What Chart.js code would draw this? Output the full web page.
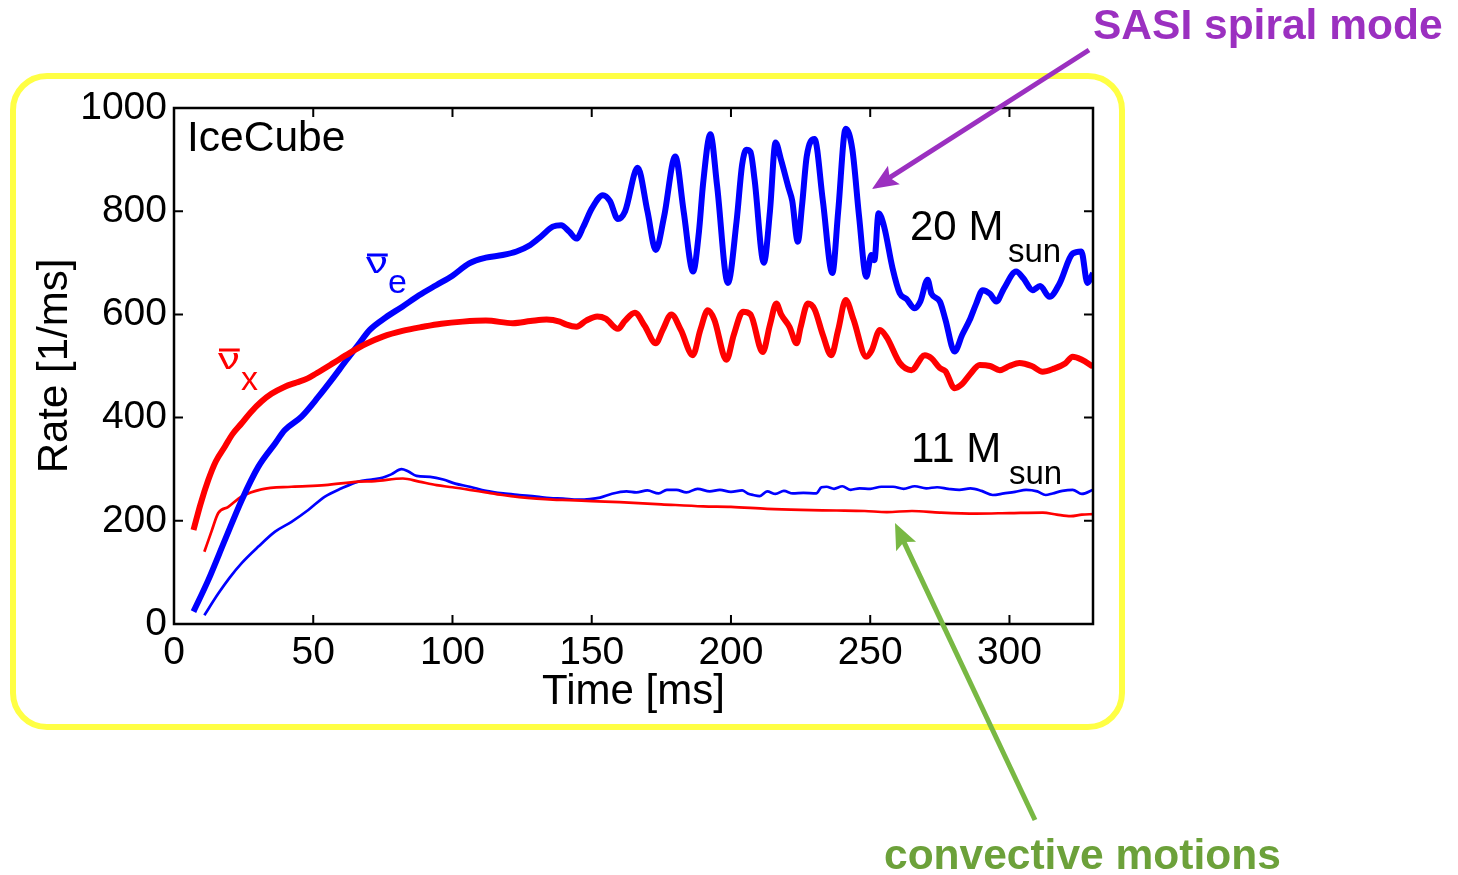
<!DOCTYPE html>
<html>
<head>
<meta charset="utf-8">
<title>IceCube event rate</title>
<script src="https://cdn.jsdelivr.net/npm/chart.js@4"></script>
<style>
  html, body { margin: 0; padding: 0; background: #ffffff; }
  canvas { display: block; }
</style>
</head>
<body>
<canvas id="rate" width="1458" height="875"></canvas>
<script>
// Time axis ticks [ms] and rate axis ticks [1/ms]
const timeTicks = [0, 50, 100, 150, 200, 250, 300];
const rateTicks = [0, 200, 400, 600, 800, 1000];

// 20 M_sun model, anti-nu_e
const t20e = [7, 12.3, 18.3, 24.3, 30.3, 36.3, 39.8, 45.8, 51.8, 56.6, 62, 66, 70.3, 76, 82, 88, 94.3, 100, 106, 112, 118, 123, 127.8, 132, 136, 139, 142, 144.5, 147, 150, 154, 156.5, 159.4, 162, 166.5, 170, 173, 176, 180, 183, 186.4, 188.5, 190, 192.6, 195, 198.9, 202, 204, 205.5, 207, 208.5, 211.8, 214, 216, 218, 220.7, 222, 224, 225.5, 227.2, 230, 233, 236.4, 238.5, 241.2, 243.6, 246, 248.6, 250.4, 251.5, 253, 255, 258, 260.6, 263, 266, 268, 270.6, 272, 275, 277, 280.3, 283, 285.7, 288, 290.4, 293, 295.3, 298, 302.4, 305, 308.3, 311, 314.4, 318, 322.7, 325.8, 328, 330];
const r20e = [24, 85, 163, 240, 305, 350, 376, 402, 440, 473, 512, 540, 570, 594, 615, 637, 657, 675, 699, 710, 715, 722, 734, 752, 770, 773, 760, 747, 770, 805, 831, 820, 785, 800, 884, 800, 725, 790, 906, 800, 683, 760, 854, 949, 850, 661, 780, 890, 919, 915, 860, 700, 800, 933, 899, 845, 820, 741, 810, 906, 940, 820, 680, 800, 960, 919, 790, 673, 715, 705, 796, 770, 690, 641, 630, 612, 625, 667, 640, 625, 590, 528, 560, 589, 620, 647, 640, 625, 650, 683, 670, 647, 655, 634, 660, 718, 722, 661, 680];

// 20 M_sun model, anti-nu_x
const t20x = [7, 9.5, 12.3, 15, 18.3, 21, 24.3, 27.5, 31.4, 35, 39.8, 44, 48, 51.2, 57, 63, 69, 75, 82, 89.4, 96, 103.7, 112, 121.7, 128, 133.8, 138.5, 141, 144.5, 148, 152, 155, 159.4, 162, 165.5, 169, 173, 175.5, 178.6, 182, 186.3, 189, 191.7, 194, 198.4, 201, 204.3, 207, 211.4, 214, 216.3, 218, 221, 223.6, 225, 227.6, 230, 233, 236, 238.5, 241.2, 244, 248.6, 250.5, 253.5, 256, 260.6, 264.8, 269.6, 272, 275, 277, 280.3, 283, 286, 289.3, 293, 296.5, 300, 303.6, 308, 311.9, 316, 320, 322.7, 326, 330];
const r20x = [182, 232, 279, 315, 344, 368, 389, 410, 431, 446, 460, 468, 476, 486, 505, 525, 543, 557, 568, 576, 582, 586, 588, 583, 587, 590, 586, 580, 576, 588, 596, 592, 572, 588, 603, 578, 544, 570, 600, 570, 521, 570, 608, 590, 512, 560, 605, 600, 527, 580, 621, 600, 576, 544, 575, 621, 610, 560, 521, 570, 628, 590, 518, 530, 570, 555, 506, 492, 521, 515, 496, 490, 457, 465, 485, 502, 500, 492, 500, 506, 500, 489, 495, 505, 518, 512, 499];

// 11 M_sun model, anti-nu_e
const t11e = [10.9, 15.9, 20, 24.3, 30.3, 36.3, 42.2, 48.2, 54.2, 60.2, 66.2, 71, 75.1, 78, 81.7, 84, 87.1, 92, 96.7, 101, 106.2, 112, 118.2, 124, 130.2, 135, 139.7, 145, 149.3, 153, 157, 162.5, 166, 170, 174, 177, 180.4, 184, 188, 192.4, 196, 200, 204, 206, 208, 210.3, 213, 216, 219, 222.2, 226, 230.6, 232.5, 234.3, 237, 240, 243, 246.2, 250, 254, 258.2, 262, 266, 270.1, 274, 278, 282, 286, 290, 294, 298, 302, 306, 310, 313, 315.5, 319, 322.7, 326, 330];
const r11e = [17, 59, 90, 118, 150, 179, 198, 221, 247, 263, 276, 280, 284, 290, 300, 296, 287, 285, 280, 272, 266, 258, 253, 250, 247, 244, 243, 241, 242, 245, 252, 257, 255, 259, 253, 260, 260, 255, 262, 257, 260, 256, 259, 253, 250, 248, 257, 252, 258, 253, 254, 253, 265, 266, 262, 267, 260, 263, 262, 266, 266, 262, 267, 263, 265, 262, 260, 263, 258, 250, 253, 256, 260, 257, 250, 253, 258, 260, 252, 260];

// 11 M_sun model, anti-nu_x
const t11x = [10.9, 13.5, 15.9, 19.5, 24.3, 31.4, 42.2, 54.2, 66.2, 72.2, 82.2, 88, 94.3, 100, 106.2, 112, 118, 124, 130.2, 136, 142, 150, 160, 175, 190, 200, 213, 225, 238, 248, 256, 265, 275, 288, 300, 312, 317, 322, 326, 330];
const r11x = [140, 180, 215, 227, 247, 261, 266, 269, 276, 277, 282, 276, 269, 265, 260, 255, 250, 246, 243, 241, 240, 238, 236, 232, 228, 227, 223, 221, 220, 219, 217, 219, 216, 214, 215, 216, 212, 209, 212, 213];

const FONT = '"Liberation Sans", Arial, Helvetica, sans-serif';

function pairs(xs, ys) {
  return xs.map((x, i) => ({ x: x, y: ys[i] }));
}

// Frame, inward ticks, annotation box, labels and arrows
const decorations = {
  id: 'decorations',
  afterDraw(chart) {
    const ctx = chart.ctx;
    const a = chart.chartArea;
    const xs = chart.scales.x;
    const ys = chart.scales.y;
    ctx.save();

    // axis box
    ctx.strokeStyle = '#000';
    ctx.lineWidth = 2.5;
    ctx.strokeRect(a.left, a.top, a.right - a.left, a.bottom - a.top);

    // inward tick marks on all four sides
    const tl = 9;
    ctx.lineWidth = 2;
    ctx.beginPath();
    timeTicks.forEach(v => {
      const px = xs.getPixelForValue(v);
      ctx.moveTo(px, a.bottom); ctx.lineTo(px, a.bottom - tl);
      ctx.moveTo(px, a.top); ctx.lineTo(px, a.top + tl);
    });
    rateTicks.forEach(v => {
      const py = ys.getPixelForValue(v);
      ctx.moveTo(a.left, py); ctx.lineTo(a.left + tl, py);
      ctx.moveTo(a.right, py); ctx.lineTo(a.right - tl, py);
    });
    ctx.stroke();

    // rounded yellow box around the panel
    ctx.strokeStyle = '#ffff44';
    ctx.lineWidth = 6;
    ctx.beginPath();
    ctx.roundRect(13, 76, 1109, 651, 34);
    ctx.stroke();

    // text labels inside the panel
    ctx.textBaseline = 'alphabetic';
    ctx.textAlign = 'left';
    ctx.fillStyle = '#000';
    ctx.font = '42.5px ' + FONT;
    ctx.fillText('IceCube', 187, 151);

    ctx.font = '42px ' + FONT;
    ctx.fillText('20 M', 910, 240);
    ctx.font = '33px ' + FONT;
    ctx.fillText('sun', 1008, 262);
    ctx.font = '42px ' + FONT;
    ctx.fillText('11 M', 911, 462);
    ctx.font = '33px ' + FONT;
    ctx.fillText('sun', 1009, 484);

    // flavour labels: nu-bar e (blue), nu-bar x (red)
    function nuBar(x, y, barY, sub, subX, subY, color) {
      ctx.fillStyle = color;
      ctx.strokeStyle = color;
      ctx.font = '30px ' + FONT;
      const w = ctx.measureText('\u03BD').width * 1.45;
      ctx.save();
      ctx.translate(x, y);
      ctx.scale(1.45, 1);
      ctx.fillText('\u03BD', 0, 0);
      ctx.restore();
      ctx.lineWidth = 3;
      ctx.beginPath();
      ctx.moveTo(x + 1, barY);
      ctx.lineTo(x + w, barY);
      ctx.stroke();
      ctx.font = '34px ' + FONT;
      ctx.fillText(sub, subX, subY);
    }
    nuBar(366, 273, 255, 'e', 388, 293, '#0000ff');
    nuBar(218, 369, 350, 'x', 241, 390, '#ff0000');

    // annotation arrows
    function arrow(x0, y0, x1, y1, color, lw) {
      const ang = Math.atan2(y1 - y0, x1 - x0);
      const hl = 26, hw = 11;
      const bx = x1 - hl * Math.cos(ang), by = y1 - hl * Math.sin(ang);
      ctx.strokeStyle = color;
      ctx.fillStyle = color;
      ctx.lineWidth = lw;
      ctx.lineCap = 'butt';
      ctx.beginPath();
      ctx.moveTo(x0, y0);
      ctx.lineTo(bx + 6 * Math.cos(ang), by + 6 * Math.sin(ang));
      ctx.stroke();
      ctx.beginPath();
      ctx.moveTo(x1, y1);
      ctx.lineTo(bx - hw * Math.sin(ang), by + hw * Math.cos(ang));
      ctx.lineTo(bx + 5 * Math.cos(ang), by + 5 * Math.sin(ang));
      ctx.lineTo(bx + hw * Math.sin(ang), by - hw * Math.cos(ang));
      ctx.closePath();
      ctx.fill();
    }
    arrow(1089, 50, 872, 189, '#9b30c0', 5);
    arrow(1035, 820, 895, 523, '#78b843', 5);

    ctx.textBaseline = 'middle';
    ctx.font = 'bold 42.5px ' + FONT;
    ctx.fillStyle = '#9b30c0';
    ctx.fillText('SASI spiral mode', 1093, 27);
    ctx.fillStyle = '#6ca13a';
    ctx.fillText('convective motions', 884, 857);

    ctx.restore();
  }
};

const tickFont = { family: FONT, size: 39 };
const titleFont = { family: FONT, size: 42 };

new Chart(document.getElementById('rate'), {
  type: 'line',
  data: {
    datasets: [
      { label: '20 M_sun anti-nu_x', data: pairs(t20x, r20x), borderColor: '#ff0000', borderWidth: 6 },
      { label: '20 M_sun anti-nu_e', data: pairs(t20e, r20e), borderColor: '#0000ff', borderWidth: 6 },
      { label: '11 M_sun anti-nu_x', data: pairs(t11x, r11x), borderColor: '#ff0000', borderWidth: 2.7 },
      { label: '11 M_sun anti-nu_e', data: pairs(t11e, r11e), borderColor: '#0000ff', borderWidth: 2.7 }
    ]
  },
  options: {
    responsive: false,
    animation: false,
    events: [],
    layout: { padding: { left: 0, top: 108, right: 365, bottom: 0 } },
    elements: {
      point: { radius: 0 },
      line: { cubicInterpolationMode: 'monotone', fill: false, borderJoinStyle: 'round', borderCapStyle: 'butt' }
    },
    plugins: { legend: { display: false }, tooltip: { enabled: false } },
    scales: {
      x: {
        type: 'linear', min: 0, max: 330,
        grid: { display: false, drawTicks: false }, border: { display: false },
        afterBuildTicks: s => { s.ticks = timeTicks.map(v => ({ value: v })); },
        ticks: { font: tickFont, color: '#000', padding: 6, maxRotation: 0, autoSkip: false, callback: v => String(v) },
        title: { display: true, text: 'Time [ms]', font: titleFont, color: '#000', padding: { top: 0, bottom: 157 } },
        afterFit: s => { s.height = 251; }
      },
      y: {
        type: 'linear', min: 0, max: 1000,
        grid: { display: false, drawTicks: false }, border: { display: false },
        afterBuildTicks: s => { s.ticks = rateTicks.map(v => ({ value: v })); },
        ticks: { font: tickFont, color: '#000', padding: 7, autoSkip: false, callback: v => String(v) },
        title: { display: true, text: 'Rate [1/ms]', font: titleFont, color: '#000', padding: { top: 30, bottom: 0 } },
        afterFit: s => { s.width = 174; }
      }
    }
  },
  plugins: [decorations]
});
</script>
</body>
</html>
